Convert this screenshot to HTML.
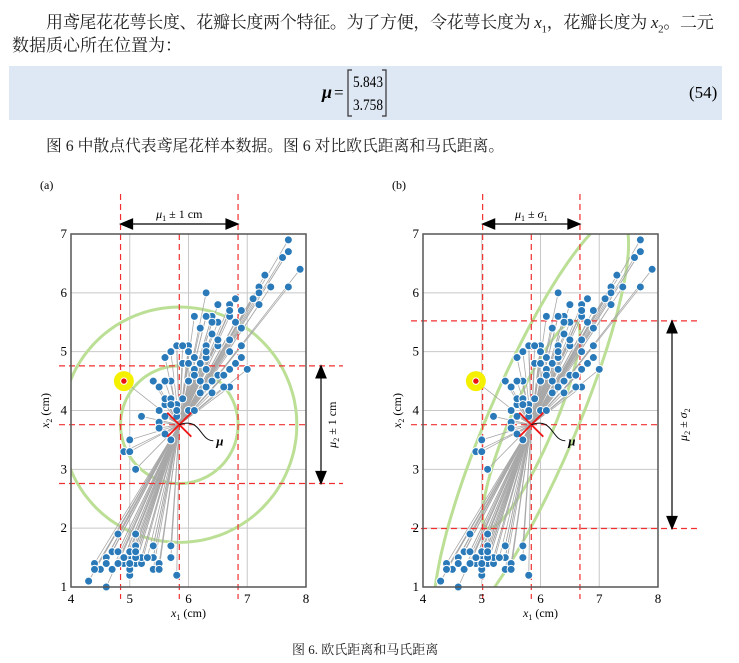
<!DOCTYPE html>
<html><head><meta charset="utf-8">
<style>
body{margin:0;background:#fff;width:739px;height:663px;overflow:hidden;position:relative;font-family:"Liberation Serif","Noto Serif CJK SC",serif;color:#222}
.t{position:absolute;white-space:nowrap}
</style></head><body>
<div class="t" style="left:46px;top:8px;font-size:17px;letter-spacing:-0.3px">用鸢尾花花萼长度、花瓣长度两个特征。为了方便，令花萼长度为 <i>x</i><sub style="font-size:11px">1</sub>，花瓣长度为 <i>x</i><sub style="font-size:11px">2</sub>。二元</div>
<div class="t" style="left:12px;top:31px;font-size:17px">数据质心所在位置为：</div>
<div style="position:absolute;left:9px;top:66px;width:713px;height:54px;background:#dee8f4"></div>
<svg style="position:absolute;left:0;top:66px" width="739" height="54">
<text x="322" y="32" font-size="18" font-weight="bold" font-style="italic" font-family="Liberation Serif,serif">μ</text>
<text x="334" y="32" font-size="17" font-family="Liberation Serif,serif">=</text>
<path d="M352,4 H348 V50 H352 M382,4 H386 V50 H382" fill="none" stroke="#333" stroke-width="1.2"/>
<text x="353" y="21" font-size="16" textLength="30" lengthAdjust="spacingAndGlyphs" font-family="Liberation Serif,serif">5.843</text>
<text x="353" y="44" font-size="16" textLength="30" lengthAdjust="spacingAndGlyphs" font-family="Liberation Serif,serif">3.758</text>
<text x="689" y="32" font-size="17" font-family="Liberation Serif,serif">(54)</text>
</svg>
<div class="t" style="left:46px;top:133px;font-size:15.8px">图 6 中散点代表鸢尾花样本数据。图 6 对比欧氏距离和马氏距离。</div>
<svg id="fig" style="position:absolute;left:0;top:0" width="739" height="663"></svg>
<div class="t" style="left:292px;top:639px;font-size:13px">图 6. 欧氏距离和马氏距离</div>
<script>
const sepalLength=[5.1,4.9,4.7,4.6,5.0,5.4,4.6,5.0,4.4,4.9,5.4,4.8,4.8,4.3,5.8,5.7,5.4,5.1,5.7,5.1,5.4,5.1,4.6,5.1,4.8,5.0,5.0,5.2,5.2,4.7,4.8,5.4,5.2,5.5,4.9,5.0,5.5,4.9,4.4,5.1,5.0,4.5,4.4,5.0,5.1,4.8,5.1,4.6,5.3,5.0,
7.0,6.4,6.9,5.5,6.5,5.7,6.3,4.9,6.6,5.2,5.0,5.9,6.0,6.1,5.6,6.7,5.6,5.8,6.2,5.6,5.9,6.1,6.3,6.1,6.4,6.6,6.8,6.7,6.0,5.7,5.5,5.5,5.8,6.0,5.4,6.0,6.7,6.3,5.6,5.5,5.5,6.1,5.8,5.0,5.6,5.7,5.7,6.2,5.1,5.7,
6.3,5.8,7.1,6.3,6.5,7.6,4.9,7.3,6.7,7.2,6.5,6.4,6.8,5.7,5.8,6.4,6.5,7.7,7.7,6.0,6.9,5.6,7.7,6.3,6.7,7.2,6.2,6.1,6.4,7.2,7.4,7.9,6.4,6.3,6.1,7.7,6.3,6.4,6.0,6.9,6.7,6.9,5.8,6.8,6.7,6.7,6.3,6.5,6.2,5.9];
const petalLength=[1.4,1.4,1.3,1.5,1.4,1.7,1.4,1.5,1.4,1.5,1.5,1.6,1.4,1.1,1.2,1.5,1.3,1.4,1.7,1.5,1.7,1.5,1.0,1.7,1.9,1.6,1.6,1.5,1.4,1.6,1.6,1.5,1.5,1.4,1.5,1.2,1.3,1.5,1.3,1.5,1.3,1.3,1.3,1.6,1.9,1.4,1.6,1.4,1.5,1.4,
4.7,4.5,4.9,4.0,4.6,4.5,4.7,3.3,4.6,3.9,3.5,4.2,4.0,4.7,3.6,4.4,4.5,4.1,4.5,3.9,4.8,4.0,4.9,4.7,4.3,4.4,4.8,5.0,4.5,3.5,3.8,3.7,3.9,5.1,4.5,4.5,4.7,4.4,4.1,4.0,4.4,4.6,4.0,3.3,4.2,4.2,4.2,4.3,3.0,4.1,
6.0,5.1,5.9,5.6,5.8,6.6,4.5,6.3,5.8,6.1,5.1,5.3,5.5,5.0,5.1,5.3,5.5,6.7,6.9,5.0,5.7,4.9,6.7,4.9,5.7,6.0,4.8,4.9,5.6,5.8,6.1,6.4,5.6,5.1,5.6,6.1,5.6,5.5,4.8,5.4,5.6,5.1,5.1,5.9,5.7,5.2,5.0,5.2,5.4,5.1];
const highlightIndex=106;
const xTicks=[4,5,6,7,8];
const yTicks=[1,2,3,4,5,6,7];
const radii=[1,2];

const NS="http://www.w3.org/2000/svg";
const svg=document.getElementById('fig');
function el(tag,attrs,parent){const e=document.createElementNS(NS,tag);for(const k in attrs)e.setAttribute(k,attrs[k]);(parent||svg).appendChild(e);return e;}
function mean(a){return a.reduce((s,v)=>s+v,0)/a.length;}
const n=sepalLength.length;
const m1=mean(sepalLength),m2=mean(petalLength);
let c11=0,c22=0,c12=0;
for(let i=0;i<n;i++){const a=sepalLength[i]-m1,b=petalLength[i]-m2;c11+=a*a;c22+=b*b;c12+=a*b;}
c11/=n-1;c22/=n-1;c12/=n-1;
const s1=Math.sqrt(c11),s2=Math.sqrt(c22);

function panel(id,left,maha){
  const x0=left,x1=left+235,yTop=234,yBot=587;
  const sx=v=>x0+(v-4)/4*(x1-x0);
  const sy=v=>yBot-(v-1)/6*(yBot-yTop);
  const g=el('g',{});
  
  
  const cid='clip-'+id;
  const cp=el('clipPath',{id:cid},g);el('rect',{x:x0,y:yTop,width:x1-x0,height:yBot-yTop},cp);
  xTicks.forEach(t=>{const l=el('line',{x1:sx(t),x2:sx(t),y1:yTop,y2:yBot,stroke:'#c8c8c8','stroke-width':1},g);});
  yTicks.forEach(t=>{const l=el('line',{x1:x0,x2:x1,y1:sy(t),y2:sy(t),stroke:'#c8c8c8','stroke-width':1},g);});
  const d1=maha?s1:1,d2=maha?s2:1;
  radii.forEach(r=>{
    let d='';
    for(let k=0;k<=200;k++){const t=k/200*2*Math.PI;let px,py;
      if(maha){const L11=s1,L21=c12/s1,L22=Math.sqrt(c22-L21*L21);const u=r*Math.cos(t),v=r*Math.sin(t);px=m1+L11*u;py=m2+L21*u+L22*v;}
      else{px=m1+r*Math.cos(t);py=m2+r*Math.sin(t);}
      d+=(k?'L':'M')+sx(px).toFixed(1)+','+sy(py).toFixed(1);}
    const p=el('path',{d:d,fill:'none',stroke:'#bcdf96','stroke-width':3,'clip-path':'url(#'+cid+')'},g);
    
    
  });
  for(let i=0;i<n;i++){const l=el('line',{x1:sx(sepalLength[i]),y1:sy(petalLength[i]),x2:sx(m1),y2:sy(m2),stroke:'#a8a8a8','stroke-width':0.8},g);
    
    }
  const dash={stroke:'#f03030','stroke-width':1.2,'stroke-dasharray':'6,4',fill:'none'};
  [m1-d1,m1,m1+d1].forEach((v,j)=>{const l=el('line',Object.assign({x1:sx(v),x2:sx(v),y1:j==1?yTop:194,y2:yBot+12},dash),g);
    
    });
  const xr=maha?697:343;
  [m2-d2,m2,m2+d2].forEach((v,j)=>{const l=el('line',Object.assign({x1:x0-12,x2:j==1?x1:xr,y1:sy(v),y2:sy(v)},dash),g);
    
    });
  for(let i=0;i<n;i++){const hl=i===highlightIndex;
    if(hl){const h=el('circle',{cx:sx(sepalLength[i]),cy:sy(petalLength[i]),r:10,fill:'#f4f000'},g);}
    const c=el('circle',{cx:sx(sepalLength[i]),cy:sy(petalLength[i]),r:hl?3.2:4,fill:hl?'#ee1111':'#2a7ab9',stroke:'#fff','stroke-width':1},g);
    
    }
  const fr=el('rect',{x:x0,y:yTop,width:x1-x0,height:yBot-yTop,fill:'none',stroke:'#555','stroke-width':1.5},g);
  
  const cx=sx(m1),cy=sy(m2);
  const xm=el('path',{d:`M${cx-12},${cy-12}L${cx+12},${cy+12}M${cx-12},${cy+12}L${cx+12},${cy-12}`,stroke:'#f01818','stroke-width':1.8},g);
  
  const cu=el('path',{d:`M${cx},${cy} C${cx+22},${cy-8} ${cx+20},${cy+16} ${cx+34},${cy+16}`,fill:'none',stroke:'#111','stroke-width':1},g);
  
  const mt=el('text',{x:cx+37,y:cy+21,'font-size':13,'font-weight':'bold','font-style':'italic'},g);mt.textContent='μ';
  
  xTicks.forEach(t=>{const tx=el('text',{x:sx(t),y:yBot+16,'font-size':13,'text-anchor':'middle'},g);tx.textContent=t;
    });
  yTicks.forEach(t=>{const tx=el('text',{x:x0-4,y:sy(t)+4,'font-size':13,'text-anchor':'end'},g);tx.textContent=t;
    });
  const xl=el('text',{x:(x0+x1)/2,y:yBot+30,'font-size':12,'text-anchor':'middle'},g);
  xl.innerHTML='<tspan font-style="italic">x</tspan><tspan font-size="8" dy="3">1</tspan><tspan dy="-3"> (cm)</tspan>';
  
  const yl=el('text',{x:0,y:0,'font-size':12,'text-anchor':'middle',transform:`translate(${x0-22},${(yTop+yBot)/2}) rotate(-90)`},g);
  yl.innerHTML='<tspan font-style="italic">x</tspan><tspan font-size="8" dy="3">2</tspan><tspan dy="-3"> (cm)</tspan>';
  
  const pl=el('text',{x:x0-31,y:189,'font-size':12},g);pl.textContent=maha?'(b)':'(a)';
  
  const ax1=sx(m1-d1),ax2=sx(m1+d1),ay=224;
  const ha=el('path',{d:`M${ax1+12},${ay}H${ax2-12}M${ax1},${ay}l12,-5v10zM${ax2},${ay}l-12,-5v10z`,stroke:'#000','stroke-width':1.2,fill:'#000'},g);
  
  const ht=el('text',{x:(ax1+ax2)/2,y:218,'font-size':12,'text-anchor':'middle'},g);
  ht.innerHTML=maha?'<tspan font-style="italic">μ</tspan><tspan font-size="8" dy="3">1</tspan><tspan dy="-3"> ± </tspan><tspan font-style="italic">σ</tspan><tspan font-size="8" dy="3">1</tspan>':'<tspan font-style="italic">μ</tspan><tspan font-size="8" dy="3">1</tspan><tspan dy="-3"> ± 1 cm</tspan>';
  
  const vx=maha?672:321,vy1=sy(m2+d2),vy2=sy(m2-d2);
  const va=el('path',{d:`M${vx},${vy1+12}V${vy2-12}M${vx},${vy1}l-5,12h10zM${vx},${vy2}l-5,-12h10z`,stroke:'#000','stroke-width':1.2,fill:'#000'},g);
  
  const vt=el('text',{x:0,y:0,'font-size':12,'text-anchor':'middle',transform:`translate(${vx+15},${(vy1+vy2)/2}) rotate(-90)`},g);
  vt.innerHTML=maha?'<tspan font-style="italic">μ</tspan><tspan font-size="8" dy="3">2</tspan><tspan dy="-3"> ± </tspan><tspan font-style="italic">σ</tspan><tspan font-size="8" dy="3">2</tspan>':'<tspan font-style="italic">μ</tspan><tspan font-size="8" dy="3">2</tspan><tspan dy="-3"> ± 1 cm</tspan>';
  
}
panel('euclidean-panel',71,false);
panel('mahalanobis-panel',423,true);
</script>
</body></html>
